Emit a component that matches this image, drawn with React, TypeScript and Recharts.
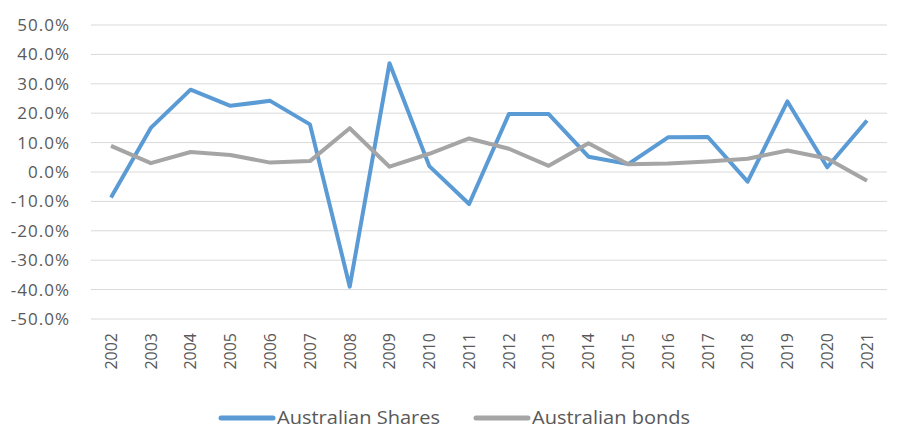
import React from 'react';
import { LineChart, Line, XAxis, YAxis, CartesianGrid, Legend } from 'recharts';

const years = ['2002', '2003', '2004', '2005', '2006', '2007', '2008', '2009', '2010', '2011',
  '2012', '2013', '2014', '2015', '2016', '2017', '2018', '2019', '2020', '2021'];
const sharesReturns = [-8.7, 15.0, 28.0, 22.5, 24.2, 16.2, -39.0, 37.0, 2.0, -10.9,
  19.7, 19.7, 5.2, 2.7, 11.8, 11.9, -3.3, 24.0, 1.6, 17.5];
const bondsReturns = [8.9, 3.0, 6.8, 5.8, 3.2, 3.7, 14.9, 1.8, 6.2, 11.4,
  7.9, 2.1, 9.8, 2.6, 2.9, 3.6, 4.5, 7.3, 4.6, -3.0];
const yTicks = [-50, -40, -30, -20, -10, 0, 10, 20, 30, 40, 50];

const BLUE = '#5B9BD5';
const GREY = '#A5A5A5';
const TEXT = '#595959';

const data = years.map((year, i) => ({
  year,
  shares: sharesReturns[i],
  bonds: bondsReturns[i],
}));

const YearTick = (props: any) => {
  const { x, y, payload } = props;
  return (
    <g transform={`translate(${x},${y})`}>
      <text
        transform="rotate(-90)"
        x={-6}
        y={0}
        dy="0.36em"
        textAnchor="end"
        fill={TEXT}
        fontSize={16}
        fontFamily="'Open Sans', sans-serif"
      >
        {payload.value}
      </text>
    </g>
  );
};

const LegendContent = () => (
  <svg width={903} height={56} style={{ display: 'block' }}>
    <line x1={221} y1={26} x2={273} y2={26} stroke={BLUE} strokeWidth={5} strokeLinecap="round" />
    <text x={277} y={32} fontSize={19} fill={TEXT} fontFamily="'Open Sans', sans-serif"
      textLength={163} lengthAdjust="spacingAndGlyphs">Australian Shares</text>
    <line x1={476} y1={26} x2={528} y2={26} stroke={GREY} strokeWidth={5} strokeLinecap="round" />
    <text x={532} y={32} fontSize={19} fill={TEXT} fontFamily="'Open Sans', sans-serif"
      textLength={158} lengthAdjust="spacingAndGlyphs">Australian bonds</text>
  </svg>
);

export default function App() {
  return (
    <div style={{ width: 903, height: 448, background: '#fff' }}>
      <style>{'body{margin:0}'}</style>
      <LineChart
        width={903}
        height={448}
        data={data}
        margin={{ top: 25, right: 16, left: 0, bottom: 0 }}
      >
        <CartesianGrid vertical={false} stroke="#D9D9D9" strokeWidth={1} />
        <XAxis
          dataKey="year"
          axisLine={false}
          tickLine={false}
          interval={0}
          height={73}
          padding={{ left: 20, right: 20 }}
          tick={<YearTick />}
        />
        <YAxis
          domain={[-50, 50]}
          ticks={yTicks}
          width={91}
          axisLine={false}
          tickLine={false}
          tickSize={0}
          tickMargin={21}
          tickFormatter={(v: number) => `${v.toFixed(1)}%`}
          tick={{ fill: TEXT, fontSize: 17, fontFamily: "'Open Sans', sans-serif", letterSpacing: 1 }}
        />
        <Line type="linear" dataKey="shares" name="Australian Shares" stroke={BLUE} strokeWidth={4}
          dot={false} activeDot={false} isAnimationActive={false} strokeLinejoin="round" />
        <Line type="linear" dataKey="bonds" name="Australian bonds" stroke={GREY} strokeWidth={4}
          dot={false} activeDot={false} isAnimationActive={false} strokeLinejoin="round" />
        <Legend verticalAlign="bottom" height={56} content={<LegendContent />} />
      </LineChart>
    </div>
  );
}
